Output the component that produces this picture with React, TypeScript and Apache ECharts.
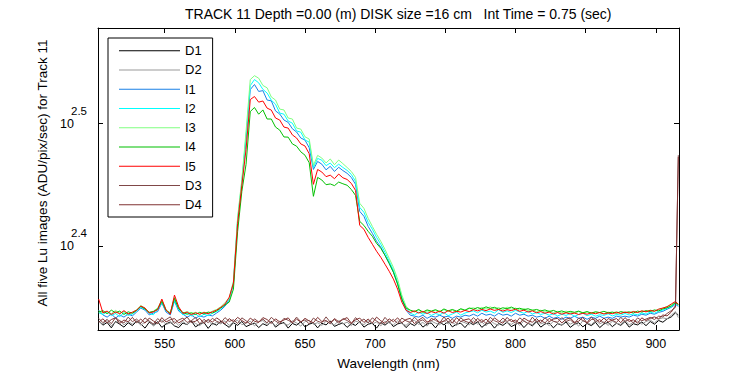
import React, { useEffect, useRef } from 'react';
import * as echarts from 'echarts';

// Wavelength samples (nm)
const wavelength = [
  503, 506, 509, 512, 515, 518, 521, 524, 527, 530,
  533, 536, 539, 542, 545, 548, 551, 554, 557, 560,
  563, 566, 569, 572, 575, 578, 581, 584, 587, 590,
  593, 596, 599, 602, 605, 608, 611, 614, 617, 620,
  623, 626, 629, 632, 635, 638, 641, 644, 647, 650,
  653, 656, 659, 662, 665, 668, 671, 674, 677, 680,
  683, 686, 689, 692, 695, 698, 701, 704, 707, 710,
  713, 716, 719, 722, 725, 728, 731, 734, 737, 740,
  743, 746, 749, 752, 755, 758, 761, 764, 767, 770,
  773, 776, 779, 782, 785, 788, 791, 794, 797, 800,
  803, 806, 809, 812, 815, 818, 821, 824, 827, 830,
  833, 836, 839, 842, 845, 848, 851, 854, 857, 860,
  863, 866, 869, 872, 875, 878, 881, 884, 887, 890,
  893, 896, 899, 902, 905, 908, 911, 914, 916,
];

// ADU/pix/sec values
const D1 = [
  218.2, 216.4, 217.5, 215.3, 217.9, 216.8, 215.6, 217.4, 216.2, 218.0,
  216.9, 215.2, 217.6, 216.5, 217.8, 215.5, 216.9, 217.7, 216.1, 215.4,
  217.3, 216.6, 218.1, 215.7, 216.8, 217.5, 215.1, 217.2, 216.4, 218.0,
  216.7, 215.5, 217.4, 216.3, 217.9, 215.8, 216.6, 217.3, 215.4, 217.0,
  216.2, 218.0, 215.6, 216.9, 217.5, 215.2, 217.1, 216.4, 217.8, 215.7,
  216.8, 217.4, 215.3, 217.2, 216.5, 218.1, 215.9, 216.7, 217.3, 215.5,
  217.0, 216.3, 217.9, 215.6, 216.8, 217.2, 215.2, 217.5, 216.4, 217.8,
  215.8, 216.9, 217.4, 215.4, 217.1, 216.2, 217.7, 215.6, 216.9, 217.3,
  215.3, 217.6, 216.5, 217.9, 215.7, 216.8, 217.2, 215.4, 217.5, 216.6,
  217.8, 215.5, 216.9, 217.4, 215.2, 217.1, 216.3, 217.6, 215.8, 216.7,
  217.5, 215.4, 217.2, 216.1, 217.8, 215.6, 216.9, 217.3, 215.3, 217.0,
  216.4, 217.7, 215.5, 216.8, 217.4, 215.7, 217.1, 216.2, 217.6, 215.4,
  216.9, 217.5, 215.8, 217.2, 216.3, 217.9, 215.6, 217.0, 216.5, 217.7,
  216.2, 217.9, 216.8, 218.3, 217.6, 219.0, 219.8, 221.5, 220.6,
];
const D2 = [
  217.8, 216.9, 218.3, 216.2, 217.6, 218.4, 216.5, 217.9, 216.8, 218.1,
  216.4, 217.7, 218.2, 216.0, 217.4, 218.5, 216.7, 217.3, 218.0, 216.3,
  217.9, 216.6, 218.3, 217.1, 216.2, 217.8, 218.4, 216.5, 217.6, 216.9,
  218.2, 216.3, 217.7, 218.4, 216.6, 217.2, 218.0, 216.1, 217.8, 218.3,
  216.7, 217.5, 216.2, 218.1, 217.0, 216.4, 218.2, 217.3, 216.0, 217.9,
  218.4, 216.8, 217.4, 216.3, 218.0, 217.2, 216.5, 218.3, 216.9, 217.6,
  216.2, 218.1, 217.4, 216.6, 218.3, 216.9, 217.7, 216.1, 218.0, 217.3,
  216.5, 218.2, 217.0, 216.3, 217.9, 218.4, 216.7, 217.5, 216.0, 218.1,
  217.2, 216.6, 218.3, 216.9, 217.6, 216.2, 218.0, 217.4, 216.5, 218.2,
  216.8, 217.7, 216.1, 218.3, 217.0, 216.4, 218.1, 217.5, 216.7, 217.9,
  216.3, 218.2, 217.1, 216.6, 218.4, 216.9, 217.6, 216.2, 218.0, 217.3,
  216.5, 218.1, 216.8, 217.7, 216.0, 218.2, 217.4, 216.6, 218.3, 216.9,
  217.8, 216.3, 218.0, 217.2, 216.7, 218.4, 216.5, 217.6, 218.1, 216.8,
  217.9, 218.5, 217.3, 218.9, 219.4, 219.0, 220.5, 222.0, 219.5,
];
const I1 = [
  222.6, 220.6, 219.7, 221.0, 219.3, 220.6, 219.7, 221.0, 220.2, 221.8,
  223.5, 222.6, 220.6, 221.4, 222.0, 225.6, 221.8, 220.6, 226.4, 222.2,
  221.0, 219.7, 220.6, 219.3, 220.2, 219.7, 220.6, 220.2, 221.4, 222.6,
  224.3, 226.9, 233.8, 263.1, 282.6, 307.0, 337.2, 340.4, 336.0, 336.5,
  330.6, 330.1, 323.9, 322.0, 318.4, 317.0, 313.2, 311.3, 307.8, 306.6,
  302.2, 290.1, 294.5, 293.0, 289.9, 291.8, 289.0, 291.3, 289.5, 288.0,
  285.8, 282.1, 268.1, 265.6, 260.6, 257.2, 253.4, 250.6, 246.8, 243.1,
  239.1, 233.8, 227.3, 222.6, 220.5, 220.1, 219.7, 220.5, 219.2, 220.1,
  219.7, 220.5, 219.7, 220.1, 219.2, 220.1, 219.7, 220.5, 220.1, 220.9,
  220.1, 221.3, 220.5, 220.9, 220.1, 221.3, 220.5, 220.9, 220.1, 221.3,
  220.5, 220.9, 220.1, 220.5, 219.7, 220.1, 219.2, 220.1, 219.2, 219.7,
  218.8, 219.7, 219.2, 220.1, 219.2, 219.7, 218.8, 219.7, 219.2, 220.1,
  219.2, 219.7, 219.2, 220.1, 219.7, 220.1, 219.7, 220.5, 220.1, 220.9,
  220.5, 221.3, 220.9, 221.7, 222.1, 223.0, 223.8, 225.1, 224.2,
];
const I2 = [
  221.5, 220.8, 221.9, 220.3, 221.2, 219.9, 221.6, 220.4, 221.0, 222.3,
  223.8, 223.0, 221.2, 220.7, 222.8, 225.9, 222.4, 221.1, 226.8, 222.9,
  220.6, 221.4, 220.2, 221.0, 219.8, 220.9, 220.3, 221.3, 222.0, 223.1,
  224.9, 227.3, 234.6, 264.1, 283.7, 309.3, 339.7, 343.6, 341.5, 337.3,
  335.0, 330.5, 328.0, 322.6, 321.9, 317.8, 316.5, 311.9, 311.2, 306.7,
  305.4, 291.2, 296.2, 295.2, 292.2, 293.6, 291.1, 293.0, 291.2, 289.6,
  287.4, 283.7, 270.1, 267.6, 262.6, 259.2, 255.3, 252.0, 248.2, 244.1,
  240.0, 234.6, 228.1, 223.5, 221.3, 220.6, 221.7, 220.9, 221.5, 220.4,
  221.2, 220.7, 221.6, 220.3, 221.0, 221.8, 220.5, 221.4, 221.9, 222.3,
  221.5, 222.6, 221.8, 222.2, 221.4, 222.8, 221.7, 222.3, 221.6, 222.5,
  221.9, 221.3, 222.1, 221.0, 221.6, 220.8, 221.3, 220.5, 221.1, 220.2,
  220.9, 220.4, 221.2, 220.0, 220.8, 221.3, 220.3, 220.9, 220.1, 220.7,
  220.4, 221.1, 220.2, 220.8, 220.5, 221.2, 220.6, 221.0, 220.7, 221.4,
  221.0, 221.8, 221.3, 222.2, 222.6, 223.4, 224.1, 225.5, 224.6,
];
const I3 = [
  222.3, 221.4, 222.0, 221.1, 222.5, 221.3, 222.1, 220.9, 221.8, 222.7,
  224.6, 223.4, 221.6, 222.2, 223.5, 226.9, 222.8, 221.5, 228.0, 223.6,
  221.4, 222.0, 221.2, 221.7, 220.9, 221.8, 221.3, 222.2, 222.9, 224.0,
  225.8, 227.7, 235.1, 265.1, 284.7, 311.6, 343.6, 346.1, 344.5, 339.8,
  338.3, 332.5, 330.6, 325.0, 324.5, 319.6, 319.0, 313.6, 313.0, 308.5,
  307.2, 292.3, 297.9, 296.4, 293.7, 295.9, 292.7, 295.3, 293.3, 291.2,
  289.0, 285.8, 272.2, 269.6, 264.6, 260.6, 256.8, 253.4, 249.6, 245.4,
  241.3, 236.0, 229.0, 224.3, 222.4, 221.8, 222.6, 221.5, 222.3, 221.9,
  222.5, 221.7, 222.8, 222.1, 222.6, 221.9, 223.0, 222.4, 223.3, 223.6,
  222.9, 223.8, 223.1, 224.0, 223.2, 223.7, 222.8, 223.9, 223.0, 223.5,
  222.7, 223.3, 222.4, 222.9, 222.0, 222.6, 221.8, 222.4, 221.6, 222.1,
  221.5, 222.2, 221.7, 221.3, 222.0, 221.4, 221.9, 221.2, 221.8, 221.5,
  221.1, 221.8, 221.4, 222.0, 221.3, 221.7, 221.5, 222.1, 221.6, 222.3,
  221.9, 222.6, 222.2, 223.0, 223.4, 224.2, 224.9, 226.0, 225.2,
];
const I4 = [
  221.8, 222.4, 221.1, 222.6, 221.5, 222.2, 220.8, 221.9, 221.3, 222.5,
  224.2, 223.1, 221.7, 222.0, 223.1, 226.3, 222.5, 221.2, 227.6, 223.2,
  221.6, 220.9, 221.5, 220.8, 221.7, 221.0, 221.8, 221.4, 222.3, 223.5,
  224.8, 226.0, 231.6, 258.2, 278.4, 292.9, 323.5, 326.0, 321.9, 324.5,
  319.0, 319.0, 314.2, 312.4, 308.4, 308.3, 304.4, 303.1, 299.9, 298.0,
  293.8, 275.8, 285.8, 284.4, 281.9, 282.3, 281.4, 283.3, 282.4, 281.6,
  279.4, 276.3, 263.1, 261.1, 258.2, 255.8, 252.4, 250.1, 246.8, 243.1,
  239.1, 233.8, 227.3, 223.5, 222.6, 222.0, 222.9, 221.8, 222.7, 222.2,
  222.8, 222.0, 223.1, 222.3, 222.9, 222.2, 223.2, 222.6, 223.5, 223.0,
  223.7, 223.1, 224.0, 223.3, 223.8, 223.0, 223.6, 223.2, 223.9, 223.1,
  223.4, 222.8, 223.2, 222.5, 222.9, 222.3, 222.7, 222.0, 222.5, 221.8,
  222.3, 221.6, 222.1, 221.7, 222.2, 221.5, 222.0, 221.4, 221.9, 221.6,
  222.1, 221.5, 221.8, 221.3, 222.0, 221.6, 221.9, 221.4, 222.2, 221.8,
  222.4, 222.0, 222.7, 222.3, 223.1, 223.6, 224.4, 225.8, 224.9,
];
const I5 = [
  227.3, 221.5, 222.2, 220.8, 221.9, 221.1, 222.4, 221.0, 221.7, 222.6,
  224.3, 223.5, 221.4, 221.9, 222.8, 227.3, 222.6, 221.0, 229.0, 224.0,
  221.2, 221.8, 220.7, 221.5, 220.9, 221.6, 221.1, 221.9, 222.6, 223.8,
  225.2, 228.1, 234.2, 262.1, 281.6, 301.3, 330.9, 332.8, 329.3, 330.0,
  325.6, 324.4, 319.6, 318.4, 314.2, 313.6, 309.6, 307.8, 304.4, 303.2,
  298.8, 282.1, 290.1, 288.7, 286.2, 287.0, 285.1, 287.6, 285.6, 284.7,
  282.6, 278.9, 261.1, 259.2, 255.3, 252.0, 248.7, 245.9, 242.7, 239.5,
  236.0, 231.6, 226.0, 222.6, 221.6, 222.3, 221.4, 222.1, 221.2, 222.0,
  221.5, 222.2, 221.3, 222.4, 221.6, 222.1, 221.8, 222.5, 222.0, 222.8,
  222.3, 222.9, 222.4, 223.1, 222.5, 222.9, 222.2, 222.8, 222.4, 223.0,
  222.1, 222.6, 221.8, 222.3, 221.5, 222.0, 221.3, 221.8, 221.0, 221.6,
  220.9, 221.5, 221.0, 221.4, 220.8, 221.3, 220.9, 221.5, 221.1, 221.6,
  221.0, 221.4, 221.1, 221.7, 221.2, 221.8, 221.4, 222.0, 221.6, 222.3,
  221.9, 222.5, 222.1, 223.0, 223.5, 224.0, 225.2, 226.3, 225.0,
];
const D3 = [
  219.2, 217.4, 218.8, 217.0, 219.5, 218.1, 217.3, 219.7, 217.8, 218.9,
  217.2, 219.4, 218.0, 216.9, 219.1, 217.6, 218.7, 219.8, 217.1, 218.5,
  219.3, 217.5, 218.2, 219.6, 216.9, 218.8, 217.4, 219.2, 218.0, 217.3,
  219.5, 217.9, 218.6, 217.1, 219.4, 218.2, 216.8, 219.0, 217.7, 218.9,
  217.3, 219.6, 218.1, 217.0, 219.2, 218.4, 217.5, 219.7, 217.8, 218.6,
  216.9, 219.3, 218.0, 217.4, 219.8, 217.6, 218.7, 217.2, 219.1, 218.3,
  217.0, 219.5, 217.8, 218.9, 217.3, 219.4, 218.1, 216.9, 219.6, 217.7,
  218.8, 217.1, 219.3, 218.2, 217.5, 219.7, 217.9, 218.6, 217.0, 219.2,
  218.4, 217.3, 219.8, 217.6, 218.9, 217.2, 219.4, 218.0, 217.4, 219.5,
  217.8, 218.7, 217.1, 219.6, 218.2, 217.5, 219.3, 217.9, 218.8, 217.2,
  219.4, 218.1, 217.0, 219.7, 217.7, 218.5, 217.3, 219.2, 218.0, 217.6,
  219.5, 217.9, 218.6, 217.1, 219.3, 218.3, 217.4, 219.8, 217.8, 218.7,
  217.2, 219.1, 218.4, 217.5, 219.6, 217.9, 218.8, 217.3, 219.4, 218.2,
  218.9, 219.6, 218.7, 220.1, 219.8, 221.2, 222.4, 223.8, 298.0,
];
const D4 = [
  217.6, 219.0, 217.3, 218.7, 219.4, 217.1, 218.5, 217.8, 219.6, 217.4,
  218.9, 217.2, 219.3, 218.1, 217.0, 219.5, 217.7, 218.6, 219.1, 217.3,
  218.4, 219.7, 217.5, 218.0, 219.2, 217.1, 218.8, 217.6, 219.4, 218.2,
  217.0, 219.1, 217.8, 219.6, 218.3, 217.2, 219.3, 218.0, 217.5, 219.5,
  218.7, 217.1, 219.0, 217.7, 218.5, 219.4, 217.3, 218.9, 217.6, 219.2,
  218.1, 217.4, 219.6, 217.9, 218.3, 217.0, 219.1, 217.8, 218.7, 219.5,
  217.2, 218.6, 219.3, 217.5, 218.9, 217.3, 219.7, 218.2, 217.1, 219.0,
  217.8, 219.4, 217.4, 218.7, 219.2, 217.0, 218.5, 219.6, 217.7, 218.3,
  219.1, 217.5, 218.0, 219.3, 217.2, 219.5, 217.9, 218.6, 219.0, 217.1,
  219.2, 217.6, 218.9, 217.3, 219.4, 218.1, 217.2, 219.6, 217.8, 218.5,
  217.0, 219.3, 218.2, 217.6, 219.1, 217.4, 219.5, 217.8, 218.9, 219.2,
  217.3, 218.8, 219.4, 217.5, 218.0, 219.6, 217.2, 218.7, 219.0, 217.6,
  219.3, 217.7, 218.5, 219.1, 217.4, 219.5, 217.9, 218.6, 217.2, 219.4,
  218.3, 219.2, 219.8, 219.0, 220.6, 220.2, 221.8, 224.5, 297.0,
];

const seriesNames = ['D1', 'D2', 'I1', 'I2', 'I3', 'I4', 'I5', 'D3', 'D4'];
const seriesValues = [D1, D2, I1, I2, I3, I4, I5, D3, D4];
const seriesColors = ['#000000', '#999999', '#1a80e6', '#00ffff', '#80ff80', '#00c000', '#ff0000', '#804848', '#803333'];

const xTicks = [550, 600, 650, 700, 750, 800, 850, 900];
const yTickExponents = [2.4, 2.5];
const xRange = [502.5, 916.5];
const yExpRange = [2.3313, 2.5782];
// superscript lift of the exponent labels, in exponent units (~13 px)
const SUP_LIFT = 0.0106;

const titleText = 'TRACK 11 Depth =0.00 (m) DISK size =16 cm   Int Time = 0.75 (sec)';
const FONT = 'Liberation Sans, Arial, Helvetica, sans-serif';

export default function App() {
  const ref = useRef<HTMLDivElement>(null);
  useEffect(() => {
    if (!ref.current) return;
    const chart = echarts.init(ref.current, undefined, { renderer: 'svg' });
    const axisLine = { show: true, lineStyle: { color: '#000', width: 1 } };
    chart.setOption({
      animation: false,
      backgroundColor: '#ffffff',
      textStyle: { fontFamily: FONT, color: '#000' },
      title: {
        text: titleText,
        left: 185,
        top: 7,
        padding: 0,
        textStyle: { fontFamily: FONT, fontSize: 14, fontWeight: 'normal', color: '#000' },
      },
      legend: {
        orient: 'vertical',
        left: 108,
        top: 38,
        data: seriesNames,
        icon: 'rect',
        itemWidth: 61,
        itemHeight: 1,
        itemGap: 5.25,
        padding: [5.7, 11, 5.3, 11],
        borderColor: '#000',
        borderWidth: 1,
        backgroundColor: '#fff',
        textStyle: { fontFamily: FONT, fontSize: 13, color: '#000', lineHeight: 14 },
      },
      grid: { left: 98, right: 71, top: 28, bottom: 44, containLabel: false },
      xAxis: [
        {
          type: 'value',
          min: xRange[0],
          max: xRange[1],
          position: 'bottom',
          axisLine,
          axisTick: { show: true, inside: true, length: 5, customValues: xTicks, lineStyle: { color: '#000' } },
          axisLabel: { show: true, customValues: xTicks, margin: 7, fontSize: 12.5, color: '#000', fontFamily: FONT },
          splitLine: { show: false },
          name: 'Wavelength (nm)',
          nameLocation: 'middle',
          nameGap: 26,
          nameTextStyle: { fontFamily: FONT, fontSize: 13.5, color: '#000' },
        },
        {
          type: 'value',
          min: xRange[0],
          max: xRange[1],
          position: 'top',
          axisLine,
          axisTick: { show: true, inside: true, length: 5, customValues: xTicks, lineStyle: { color: '#000' } },
          axisLabel: { show: false },
          splitLine: { show: false },
        },
      ],
      yAxis: [
        {
          type: 'value',
          min: yExpRange[0],
          max: yExpRange[1],
          position: 'left',
          axisLine,
          axisTick: { show: true, inside: true, length: 5, customValues: yTickExponents, lineStyle: { color: '#000' } },
          axisLabel: {
            show: true,
            customValues: yTickExponents,
            formatter: () => '10',
            margin: 24,
            fontSize: 12.5,
            color: '#000',
            fontFamily: FONT,
          },
          splitLine: { show: false },
          name: 'All five Lu images (ADU/pix/sec) for Track 11',
          nameLocation: 'middle',
          nameGap: 48,
          nameTextStyle: { fontFamily: FONT, fontSize: 13.5, color: '#000', padding: [0, 0, 0, 12] },
        },
        {
          type: 'value',
          min: yExpRange[0] - SUP_LIFT,
          max: yExpRange[1] - SUP_LIFT,
          position: 'left',
          axisLine: { show: false },
          axisTick: { show: false },
          axisLabel: {
            show: true,
            customValues: yTickExponents,
            formatter: (v: number) => v.toFixed(1),
            margin: 11,
            fontSize: 11.5,
            color: '#000',
            fontFamily: FONT,
          },
          splitLine: { show: false },
        },
        {
          type: 'value',
          min: yExpRange[0],
          max: yExpRange[1],
          position: 'right',
          axisLine,
          axisTick: { show: true, inside: true, length: 5, customValues: yTickExponents, lineStyle: { color: '#000' } },
          axisLabel: { show: false },
          splitLine: { show: false },
        },
      ],
      series: seriesNames.map((name, si) => ({
        name,
        type: 'line',
        xAxisIndex: 0,
        yAxisIndex: 0,
        symbol: 'none',
        showSymbol: false,
        clip: true,
        color: seriesColors[si],
        lineStyle: { color: seriesColors[si], width: 1 },
        data: wavelength.map((w, i) => [w, Math.log10(seriesValues[si][i])]),
      })),
    });
    return () => chart.dispose();
  }, []);
  return (
    <div
      ref={ref}
      style={{ position: 'absolute', left: 0, top: 0, width: 750, height: 375, background: '#fff' }}
    />
  );
}
